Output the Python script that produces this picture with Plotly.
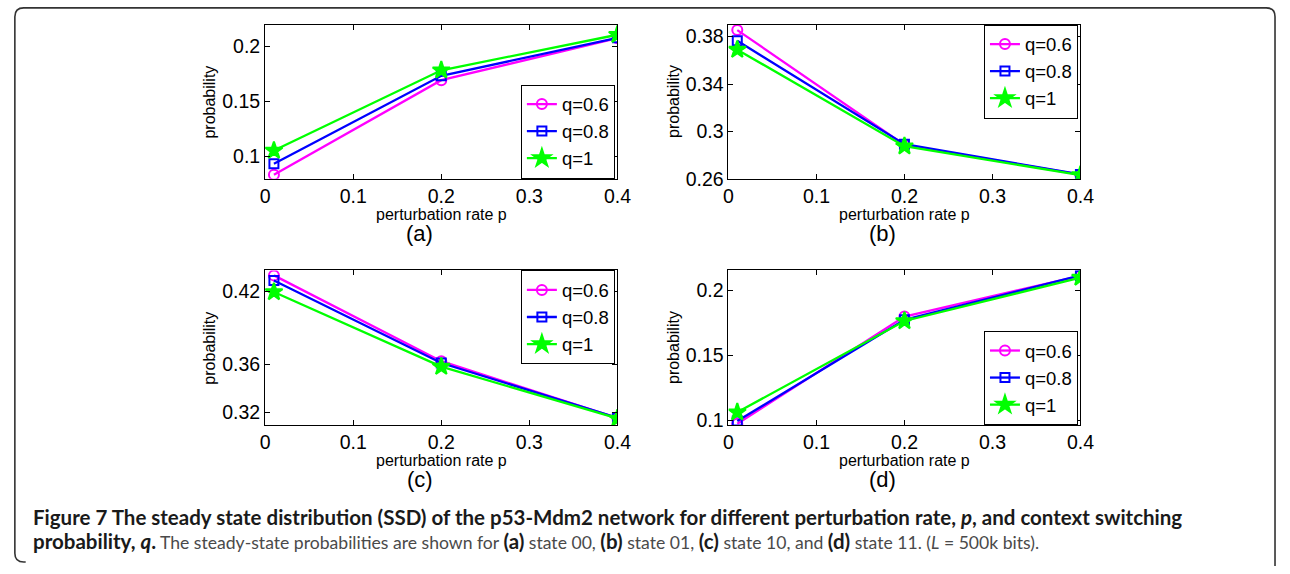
import plotly.graph_objects as go

W, H = 1290, 574

# perturbation rates
p = [0.01, 0.2, 0.4]
q_labels = ["q=0.6", "q=0.8", "q=1"]

# (a) state 00
a_q06 = [0.083, 0.169, 0.2072]
a_q08 = [0.093, 0.173, 0.2075]
a_q1 = [0.105, 0.178, 0.2103]
# (b) state 01
b_q06 = [0.3855, 0.2885, 0.2635]
b_q08 = [0.3765, 0.2892, 0.2637]
b_q1 = [0.3690, 0.2875, 0.2632]
# (c) state 10
c_q06 = [0.4334, 0.3625, 0.3155]
c_q08 = [0.4292, 0.3610, 0.3157]
c_q1 = [0.4197, 0.3580, 0.3152]
# (d) state 11
d_q06 = [0.0972, 0.1796, 0.2110]
d_q08 = [0.0992, 0.1771, 0.2112]
d_q1 = [0.1060, 0.1762, 0.2096]

x_ticks = [0, 0.1, 0.2, 0.3, 0.4]
a_yticks = [0.1, 0.15, 0.2]
b_yticks = [0.26, 0.3, 0.34, 0.38]
c_yticks = [0.32, 0.36, 0.42]
d_yticks = [0.1, 0.15, 0.2]

panel_labels = ["(a)", "(b)", "(c)", "(d)"]

colors = ["#ff00ff", "#0000ff", "#00ff00"]
symbols = ["circle-open", "square-open", "star"]
msizes = [10, 9, 13]

FONT = "Liberation Sans, Arial, Helvetica, sans-serif"


def px_x(x):
    return x / W


def px_y(y):
    return 1 - y / H


# panel geometry in pixels: (left, right, top, bottom)
panels = [
    (264, 621.6, 25, 182.3),
    (734.3, 1091.5, 25, 182.3),
    (264, 621.6, 275.7, 433.3),
    (734.3, 1091.5, 275.7, 433.3),
]
y_ranges = [[0.0793, 0.2196], [0.26, 0.3902], [0.3098, 0.4375], [0.0962, 0.2151]]
y_ticks = [a_yticks, b_yticks, c_yticks, d_yticks]
series = [
    [a_q06, a_q08, a_q1],
    [b_q06, b_q08, b_q1],
    [c_q06, c_q08, c_q1],
    [d_q06, d_q08, d_q1],
]
# legend anchor corners: (x px, y px, xanchor, yanchor)
legend_pos = [
    (619, 182, "right", "bottom"),
    (1089, 25, "right", "top"),
    (619, 275.7, "right", "top"),
    (1089, 433.3, "right", "bottom"),
]

fig = go.Figure()
layout = {}

for i, (l, r, t, b) in enumerate(panels):
    k = "" if i == 0 else str(i + 1)
    leg = "legend" + k
    for j in range(3):
        fig.add_trace(go.Scatter(
            x=p, y=series[i][j], name=q_labels[j],
            mode="lines+markers",
            line=dict(color=colors[j], width=2.3),
            marker=dict(symbol=symbols[j], size=msizes[j], color=colors[j],
                        line=dict(color=colors[j], width=2)),
            xaxis="x" + k, yaxis="y" + k, legend=leg,
        ))
    axis_common = dict(
        showline=True, linecolor="black", linewidth=1, mirror="ticks",
        ticks="inside", ticklen=5, tickcolor="black", tickwidth=1,
        showgrid=False, zeroline=False,
        tickfont=dict(family=FONT, size=19.5, color="black"),
    )
    layout["xaxis" + k] = dict(
        domain=[px_x(l), px_x(r)], anchor="y" + k, range=[0, 0.4],
        tickvals=x_ticks, ticktext=[f"{v:g}" for v in x_ticks], **axis_common,
    )
    layout["yaxis" + k] = dict(
        domain=[px_y(b), px_y(t)], anchor="x" + k, range=y_ranges[i],
        tickvals=y_ticks[i], ticktext=[f"{v:g}" for v in y_ticks[i]], **axis_common,
    )
    lx, ly, xa, ya = legend_pos[i]
    layout[leg] = dict(
        x=px_x(lx), y=px_y(ly), xanchor=xa, yanchor=ya,
        xref="paper", yref="paper",
        bgcolor="white", bordercolor="black", borderwidth=1,
        font=dict(family=FONT, size=18.5, color="black"),
        itemwidth=30, tracegroupgap=0,
    )

annotations = []
for i, (l, r, t, b) in enumerate(panels):
    cx = (l + r) / 2
    annotations.append(dict(
        x=px_x(cx), y=px_y(b + 36.5), xref="paper", yref="paper",
        text="perturbation rate p", showarrow=False,
        font=dict(family=FONT, size=16, color="black"),
        xanchor="center", yanchor="middle",
    ))
    annotations.append(dict(
        x=px_x(l - 56), y=px_y((t + b) / 2), xref="paper", yref="paper",
        text="probability", showarrow=False, textangle=-90,
        font=dict(family=FONT, size=16, color="black"),
        xanchor="center", yanchor="middle",
    ))
    annotations.append(dict(
        x=px_x(cx - 22), y=px_y(b + 56), xref="paper", yref="paper",
        text=panel_labels[i], showarrow=False,
        font=dict(family=FONT, size=22, color="black"),
        xanchor="center", yanchor="middle",
    ))

CAP_FONT = "Lato, Roboto, sans-serif"
GREY = "#4a4a4a"


def reg(s):
    return f"<span style='color:{GREY};font-size:17.6px'>{s}</span>"


line1 = ("<b>Figure 7 The steady state distribution (SSD) of the p53-Mdm2 network "
         "for different perturbation rate, <i>p</i>, and context switching</b>")
line2 = ("<b>probability, <i>q</i>.</b>"
         + reg(" The steady-state probabilities are shown for ") + "<b>(a)</b>"
         + reg(" state 00, ") + "<b>(b)</b>"
         + reg(" state 01, ") + "<b>(c)</b>"
         + reg(" state 10, and ") + "<b>(d)</b>"
         + reg(" state 11. (<i>L</i> = 500k bits)."))
for txt, yy in [(line1, 527), (line2, 552)]:
    annotations.append(dict(
        x=px_x(26), y=px_y(yy), xref="paper", yref="paper",
        text=txt, showarrow=False, align="left",
        font=dict(family=CAP_FONT, size=20.5, color="#1a1a1a"),
        xanchor="left", yanchor="middle",
    ))

# rounded frame around the figure
fl, ft, fr, fb, rad = 10, 8, 1289, 573, 9
frame_path = (
    f"M {px_x(fl + rad + 2)} {px_y(fb)} L {px_x(fl + rad)} {px_y(fb)} "
    f"Q {px_x(fl)} {px_y(fb)} {px_x(fl)} {px_y(fb - rad)} "
    f"L {px_x(fl)} {px_y(ft + rad)} "
    f"Q {px_x(fl)} {px_y(ft)} {px_x(fl + rad)} {px_y(ft)} "
    f"L {px_x(fr - rad)} {px_y(ft)} Q {px_x(fr)} {px_y(ft)} {px_x(fr)} {px_y(ft + rad)} "
    f"L {px_x(fr)} {px_y(fb + 4)}"
)
shapes = [dict(type="path", xref="paper", yref="paper", path=frame_path,
               line=dict(color="#333333", width=1.6))]

fig.update_layout(
    width=W, height=H, autosize=False,
    margin=dict(l=0, r=0, t=0, b=0),
    paper_bgcolor="white", plot_bgcolor="white",
    showlegend=True,
    annotations=annotations, shapes=shapes,
    **layout,
)

fig.write_html("out.html")
